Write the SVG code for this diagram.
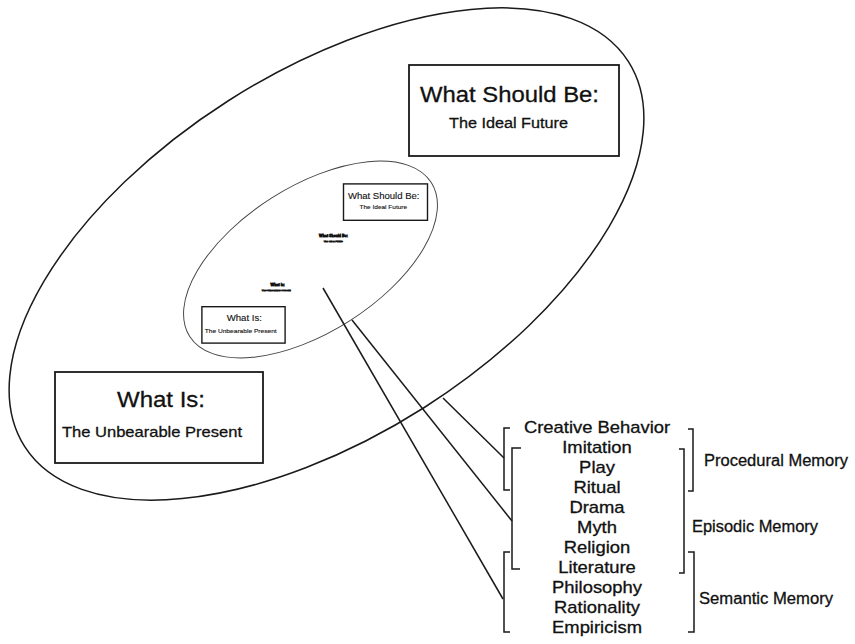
<svg xmlns="http://www.w3.org/2000/svg" width="855" height="644" viewBox="0 0 855 644">
<style>
.ln{fill:none;stroke:#1a1a1a;stroke-width:1.5}
.box{fill:#fff;stroke:#1a1a1a;stroke-width:1.8}
.t{font-family:"Liberation Sans",Arial,Helvetica,sans-serif;fill:#111;stroke:#111;stroke-width:0.3}
.lst{font-family:"Liberation Sans",Arial,Helvetica,sans-serif;fill:#111;stroke:#111;stroke-width:0.3;font-size:16px;text-anchor:middle}
.tiny{stroke-width:5}
</style>
<rect width="855" height="644" fill="#fff"/>

<g id="outer-ellipse">
<ellipse class="ln" cx="326.5" cy="254" rx="358" ry="182" transform="rotate(-32.5 326.5 254)" stroke-width="1.6"/>
</g>
<g id="what-should-be">
<rect class="box" x="409" y="65" width="210" height="91"/>
<text class="t" x="420" y="102" font-size="22" textLength="179" lengthAdjust="spacingAndGlyphs">What Should Be:</text>
<text class="t" x="449" y="128" font-size="15.5" textLength="119" lengthAdjust="spacingAndGlyphs">The Ideal Future</text>
</g>
<g id="what-is">
<rect class="box" x="55" y="372" width="208" height="91"/>
<text class="t" x="117" y="407" font-size="22" textLength="88" lengthAdjust="spacingAndGlyphs">What Is:</text>
<text class="t" x="62" y="437" font-size="15" textLength="180" lengthAdjust="spacingAndGlyphs">The Unbearable Present</text>
</g>

<g id="inner-level" transform="translate(179.9 157.9) scale(0.4)">
<ellipse fill="none" stroke="#444" stroke-width="2.4" cx="326.5" cy="254" rx="358" ry="182" transform="rotate(-32.5 326.5 254)"/>
<g id="inner-what-should-be">
<rect fill="#fff" stroke="#1a1a1a" stroke-width="3.5" x="409" y="65" width="210" height="91"/>
<text class="t" x="420" y="102" font-size="22" textLength="179" lengthAdjust="spacingAndGlyphs">What Should Be:</text>
<text class="t" x="449" y="128" font-size="15.5" textLength="119" lengthAdjust="spacingAndGlyphs">The Ideal Future</text>
</g>
<g id="inner-what-is">
<rect fill="#fff" stroke="#1a1a1a" stroke-width="3.5" x="55" y="372" width="208" height="91"/>
<text class="t" x="117" y="407" font-size="22" textLength="88" lengthAdjust="spacingAndGlyphs">What Is:</text>
<text class="t" x="62" y="437" font-size="15" textLength="180" lengthAdjust="spacingAndGlyphs">The Unbearable Present</text>
</g>
</g>

<g id="innermost-level" transform="translate(251.9 221.1) scale(0.16)">
<text class="t tiny" x="420" y="102" font-size="22" textLength="179" lengthAdjust="spacingAndGlyphs">What Should Be:</text>
<text class="t tiny" x="449" y="128" font-size="15.5" textLength="119" lengthAdjust="spacingAndGlyphs">The Ideal Future</text>
<text class="t tiny" x="117" y="407" font-size="22" textLength="88" lengthAdjust="spacingAndGlyphs">What Is:</text>
<text class="t tiny" x="62" y="437" font-size="15" textLength="180" lengthAdjust="spacingAndGlyphs">The Unbearable Present</text>
</g>

<g id="connectors">
<path class="ln" d="M323,288 L503,599"/>
<path class="ln" d="M352,320 L512,521"/>
<path class="ln" d="M443,398 L504,458"/>
</g>

<g id="list" transform="translate(597 0) scale(1.15 1)">
<text class="lst" x="0" y="433">Creative Behavior</text>
<text class="lst" x="0" y="453">Imitation</text>
<text class="lst" x="0" y="473">Play</text>
<text class="lst" x="0" y="493">Ritual</text>
<text class="lst" x="0" y="513">Drama</text>
<text class="lst" x="0" y="533">Myth</text>
<text class="lst" x="0" y="553">Religion</text>
<text class="lst" x="0" y="573">Literature</text>
<text class="lst" x="0" y="593">Philosophy</text>
<text class="lst" x="0" y="613">Rationality</text>
<text class="lst" x="0" y="633">Empiricism</text>
</g>

<g id="brackets">
<path class="ln" d="M510,428 H504 V490 H510"/>
<path class="ln" d="M521,448 H512 V569 H520"/>
<path class="ln" d="M510,552 H504 V632 H510"/>
<path class="ln" d="M688,429 H693 V491 H688"/>
<path class="ln" d="M679,449 H684 V573 H679"/>
<path class="ln" d="M688,552 H694 V632 H688"/>
</g>

<g id="procedural-memory">
<text class="t" x="704" y="466" font-size="16" textLength="144" lengthAdjust="spacingAndGlyphs">Procedural Memory</text>
</g>
<g id="episodic-memory">
<text class="t" x="692" y="532" font-size="16" textLength="126" lengthAdjust="spacingAndGlyphs">Episodic Memory</text>
</g>
<g id="semantic-memory">
<text class="t" x="699" y="604" font-size="16" textLength="134" lengthAdjust="spacingAndGlyphs">Semantic Memory</text>
</g>
</svg>
